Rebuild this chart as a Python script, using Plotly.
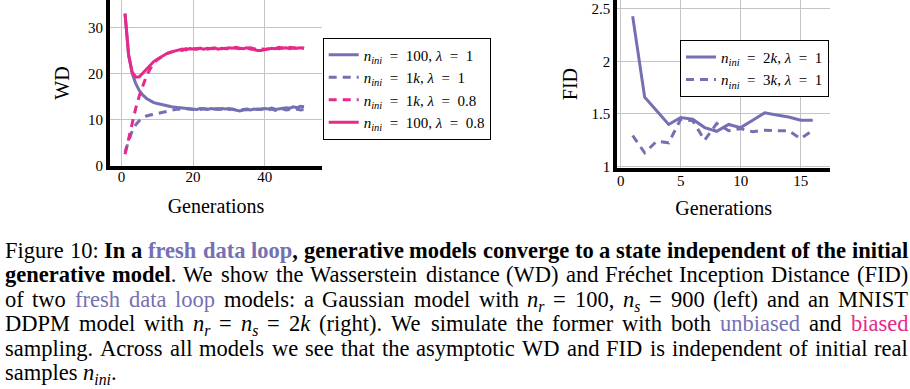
import re
import plotly.graph_objects as go

W, H = 910, 389
BLUE = "#7570b3"
PINK = "#e7298a"
FONT = "Liberation Serif"

# ---------------- data ----------------
gen_wd = list(range(1, 52))
wd_n100_l1 = [33.0, 24.0, 20.0, 17.8, 16.3, 15.3, 14.6, 14.1, 13.7, 13.5,
              13.3, 13.1, 13.0, 12.8, 12.7, 12.6, 12.5, 12.4, 12.3, 12.3,
              12.2, 12.4, 12.3, 12.2, 12.4, 12.3, 12.2, 12.4, 12.3, 12.4,
              12.2, 12.0, 11.9, 12.1, 12.2, 12.1, 12.3, 12.2, 12.3, 12.4,
              12.3, 12.5, 12.2, 12.3, 12.4, 12.6, 12.5, 12.8, 12.6, 12.9, 12.8]
wd_n1k_l1 = [3.0, 5.5, 7.6, 8.9, 9.8, 10.4, 10.8, 11.0, 11.1, 11.3,
             11.5, 11.7, 11.9, 12.1, 12.2, 12.3, 12.2, 12.4, 12.3, 12.2,
             12.3, 12.2, 12.4, 12.3, 12.2, 12.3, 12.4, 12.2, 12.3, 12.2,
             12.3, 12.1, 12.0, 12.2, 12.3, 12.2, 12.1, 12.3, 12.2, 12.4,
             12.1, 12.3, 12.0, 12.2, 12.3, 12.1, 12.2, 12.0, 12.3, 12.1, 12.2]
wd_n1k_l08 = [2.5, 6.0, 9.5, 12.5, 15.2, 17.5, 19.5, 21.0, 22.2, 23.0,
              23.6, 24.0, 24.4, 24.7, 25.0, 25.2, 25.0, 25.4, 25.2, 25.4,
              25.3, 25.5, 25.4, 25.3, 25.5, 25.4, 25.6, 25.4, 25.5, 25.3,
              25.6, 25.5, 25.4, 25.6, 25.5, 25.6, 25.4, 25.2, 25.4, 25.2,
              25.4, 25.6, 25.5, 25.4, 25.6, 25.4, 25.7, 25.5, 25.4, 25.6, 25.5]
wd_n100_l08 = [33.0, 24.0, 20.3, 19.2, 19.3, 20.1, 21.0, 21.9, 22.6, 23.1,
               23.6, 24.1, 24.5, 24.7, 24.9, 25.0, 25.3, 25.1, 25.4, 25.3,
               25.4, 25.5, 25.3, 25.5, 25.4, 25.6, 25.3, 25.5, 25.4, 25.6,
               25.5, 25.7, 25.5, 25.4, 25.6, 25.3, 25.2, 25.0, 25.0, 25.1,
               25.3, 25.5, 25.4, 25.7, 25.5, 25.6, 25.4, 25.6, 25.5, 25.6, 25.5]

gen_fid = list(range(1, 17))
fid_n2k = [2.43, 1.66, 1.53, 1.40, 1.465, 1.45, 1.37, 1.335, 1.40, 1.37,
           1.44, 1.51, 1.49, 1.47, 1.44, 1.44]
fid_n3k = [1.295, 1.13, 1.24, 1.225, 1.45, 1.435, 1.25, 1.41, 1.34, 1.36,
           1.33, 1.345, 1.34, 1.34, 1.265, 1.345]

wd_ticks = [0, 10, 20, 30]
wd_gen_ticks = [0, 20, 40]
fid_ticks = [1, 1.5, 2, 2.5]
fid_tick_text = ["1", "1.5", "2", "2.5"]
fid_gen_ticks = [0, 5, 10, 15]

NI = "<i>n</i><sub><i>ini</i></sub>"
LAM = "<i>λ</i>"
EQ = "\u2002=\u2002"
names_wd = [f"{NI}{EQ}100, {LAM}{EQ}1", f"{NI}{EQ}1<i>k</i>, {LAM}{EQ}1",
            f"{NI}{EQ}1<i>k</i>, {LAM}{EQ}0.8", f"{NI}{EQ}100, {LAM}{EQ}0.8"]
names_fid = [f"{NI}{EQ}2<i>k</i>, {LAM}{EQ}1", f"{NI}{EQ}3<i>k</i>, {LAM}{EQ}1"]

caption_lines = [
    "Figure 10: <b>In a <span style='color:#7570b3'>fresh data loop</span>, generative models converge to a state independent of the initial</b>",
    "<b>generative model</b>. We show the Wasserstein distance (WD) and Fréchet Inception Distance (FID)",
    "of two <span style='color:#7570b3'>fresh data loop</span> models: a Gaussian model with <i>n</i><sub><i>r</i></sub> = 100, <i>n</i><sub><i>s</i></sub> = 900 (left) and an MNIST",
    "DDPM model with <i>n</i><sub><i>r</i></sub> = <i>n</i><sub><i>s</i></sub> = 2<i>k</i> (right). We simulate the former with both <span style='color:#7570b3'>unbiased</span> and <span style='color:#e7298a'>biased</span>",
    "sampling. Across all models we see that the asymptotic WD and FID is independent of initial real",
    "samples <i>n</i><sub><i>ini</i></sub>.",
]

# ---------------- figure ----------------
fig = go.Figure()
line_w = 3
dash = "8px,6px"
styles = [(BLUE, "solid"), (BLUE, dash), (PINK, dash), (PINK, "solid")]
for ys, nm, (c, d) in zip([wd_n100_l1, wd_n1k_l1, wd_n1k_l08, wd_n100_l08], names_wd, styles):
    fig.add_trace(go.Scatter(x=gen_wd, y=ys, name=nm, mode="lines",
                             line=dict(color=c, width=line_w, dash=d),
                             xaxis="x", yaxis="y", legend="legend"))
for ys, nm, d in zip([fid_n2k, fid_n3k], names_fid, ["solid", dash]):
    fig.add_trace(go.Scatter(x=gen_fid, y=ys, name=nm, mode="lines",
                             line=dict(color=BLUE, width=line_w, dash=d),
                             xaxis="x2", yaxis="y2", legend="legend2"))


def px_x(p):
    return p / W


def px_y(p):
    return 1 - p / H


axis_common = dict(showline=True, linecolor="black", linewidth=4, mirror=False,
                   showgrid=True, gridcolor="#c4c4c4", gridwidth=1, zeroline=False,
                   ticks="", tickfont=dict(family=FONT, size=15, color="black"))

fig.update_layout(
    width=W, height=H, margin=dict(l=0, r=0, t=0, b=0),
    paper_bgcolor="white", plot_bgcolor="white",
    font=dict(family=FONT, color="black"),
    xaxis=dict(domain=[px_x(110), px_x(322)], range=[-3.2, 56.0],
               tickvals=wd_gen_ticks, anchor="y", ticklabelstandoff=-6,
               title=dict(text="Generations", font=dict(size=20), standoff=16),
               **axis_common),
    yaxis=dict(domain=[px_y(169.5), 1], range=[-0.05, 35.95],
               tickvals=wd_ticks, anchor="x",
               title=dict(text="WD", font=dict(size=20), standoff=14),
               **axis_common),
    xaxis2=dict(domain=[px_x(617.3), px_x(830)], range=[-0.28, 17.44],
                tickvals=fid_gen_ticks, anchor="y2", ticklabelstandoff=-4,
                title=dict(text="Generations", font=dict(size=20), standoff=14),
                **axis_common),
    yaxis2=dict(domain=[px_y(171.7), 1], range=[0.984, 2.584],
                tickvals=fid_ticks, ticktext=fid_tick_text, anchor="x2",
                title=dict(text="FID", font=dict(size=20), standoff=10),
                **axis_common),
    legend=dict(x=px_x(322.7), y=px_y(38.3), xanchor="left", yanchor="top",
                bordercolor="black", borderwidth=1, bgcolor="white",
                font=dict(family=FONT, size=15, color="black")),
    legend2=dict(x=px_x(680), y=px_y(40.7), xanchor="left", yanchor="top",
                 bordercolor="black", borderwidth=1, bgcolor="white",
                 font=dict(family=FONT, size=15, color="black")),
    showlegend=True,
)

# ---------------- caption (justified, word by word) ----------------
REG = {' ': 250, ',': 250, '.': 250, ':': 278, '(': 333, ')': 333, '=': 564, 'é': 444,
       'A': 722, 'B': 667, 'C': 667, 'D': 722, 'E': 611, 'F': 556, 'G': 722, 'H': 722,
       'I': 333, 'J': 389, 'K': 722, 'L': 611, 'M': 889, 'N': 722, 'O': 722, 'P': 556,
       'Q': 722, 'R': 667, 'S': 556, 'T': 611, 'U': 722, 'V': 722, 'W': 944, 'X': 722,
       'Y': 722, 'Z': 611,
       'a': 444, 'b': 500, 'c': 444, 'd': 500, 'e': 444, 'f': 333, 'g': 500, 'h': 500,
       'i': 278, 'j': 278, 'k': 500, 'l': 278, 'm': 778, 'n': 500, 'o': 500, 'p': 500,
       'q': 500, 'r': 333, 's': 389, 't': 278, 'u': 500, 'v': 500, 'w': 722, 'x': 500,
       'y': 500, 'z': 444}
BOLD = {' ': 250, ',': 250, '.': 250, ':': 333, 'I': 389,
        'a': 500, 'b': 556, 'c': 444, 'd': 556, 'e': 444, 'f': 333, 'g': 500, 'h': 556,
        'i': 278, 'j': 333, 'k': 556, 'l': 278, 'm': 833, 'n': 556, 'o': 500, 'p': 556,
        'q': 556, 'r': 444, 's': 389, 't': 333, 'u': 556, 'v': 500, 'w': 722, 'x': 500,
        'y': 500, 'z': 444}
ITAL = {'n': 500, 'r': 389, 's': 389, 'k': 444, 'i': 278}


def char_w(c, b, i):
    if c.isdigit():
        return 500
    if b:
        return BOLD.get(c, REG.get(c, 500))
    if i:
        return ITAL.get(c, REG.get(c, 500))
    return REG.get(c, 500)


def parse_words(markup):
    words, cur = [], []
    b = it = sb = 0
    colors = []
    for tok in re.findall(r"<[^>]+>|[^<]", markup):
        if tok.startswith("<"):
            t = tok.lower()
            if t == "<b>": b += 1
            elif t == "</b>": b -= 1
            elif t == "<i>": it += 1
            elif t == "</i>": it -= 1
            elif t == "<sub>": sb += 1
            elif t == "</sub>": sb -= 1
            elif t.startswith("<span"):
                m = re.search(r"color:\s*([#\w]+)", tok)
                colors.append(m.group(1) if m else None)
            elif t == "</span>": colors.pop()
            continue
        if tok == " ":
            if cur:
                words.append(cur)
                cur = []
            continue
        cur.append((tok, b > 0, it > 0, sb > 0, colors[-1] if colors else None))
    if cur:
        words.append(cur)
    return words


def word_html_width(word, fs):
    html, width = "", 0.0
    groups = []
    for ch, b, i, s, c in word:
        width += char_w(ch, b, i) / 1000 * fs * (0.7 if s else 1.0)
        if groups and groups[-1][1:] == [b, i, s, c]:
            groups[-1][0] += ch
        else:
            groups.append([ch, b, i, s, c])
    for txt, b, i, s, c in groups:
        t = txt
        if s: t = f"<sub>{t}</sub>"
        if i: t = f"<i>{t}</i>"
        if b: t = f"<b>{t}</b>"
        if c: t = f"<span style='color:{c}'>{t}</span>"
        html += t
    return html, width


CAP_FS = 22.5
X0, X1 = 5, 908
baselines = [256.7, 281.7, 306.7, 331.7, 356.7, 381.7]
top_off = 0.891 * CAP_FS - 6
for k, (line, base) in enumerate(zip(caption_lines, baselines)):
    words = [word_html_width(w, CAP_FS) for w in parse_words(line)]
    total = sum(w for _, w in words)
    last = k == len(caption_lines) - 1
    gap = 0.25 * CAP_FS if last else (X1 - X0 - total) / (len(words) - 1)
    x = X0
    for html, w in words:
        fig.add_annotation(text=html, x=px_x(x), y=px_y(base - top_off),
                           xref="paper", yref="paper", xanchor="left", yanchor="top",
                           showarrow=False, borderpad=0, borderwidth=0,
                           font=dict(family=FONT, size=CAP_FS, color="black"))
        x += w + gap

fig.write_html("out.html", config={"displayModeBar": False},
               post_script="document.body.style.margin='0';document.body.style.overflow='hidden';")
